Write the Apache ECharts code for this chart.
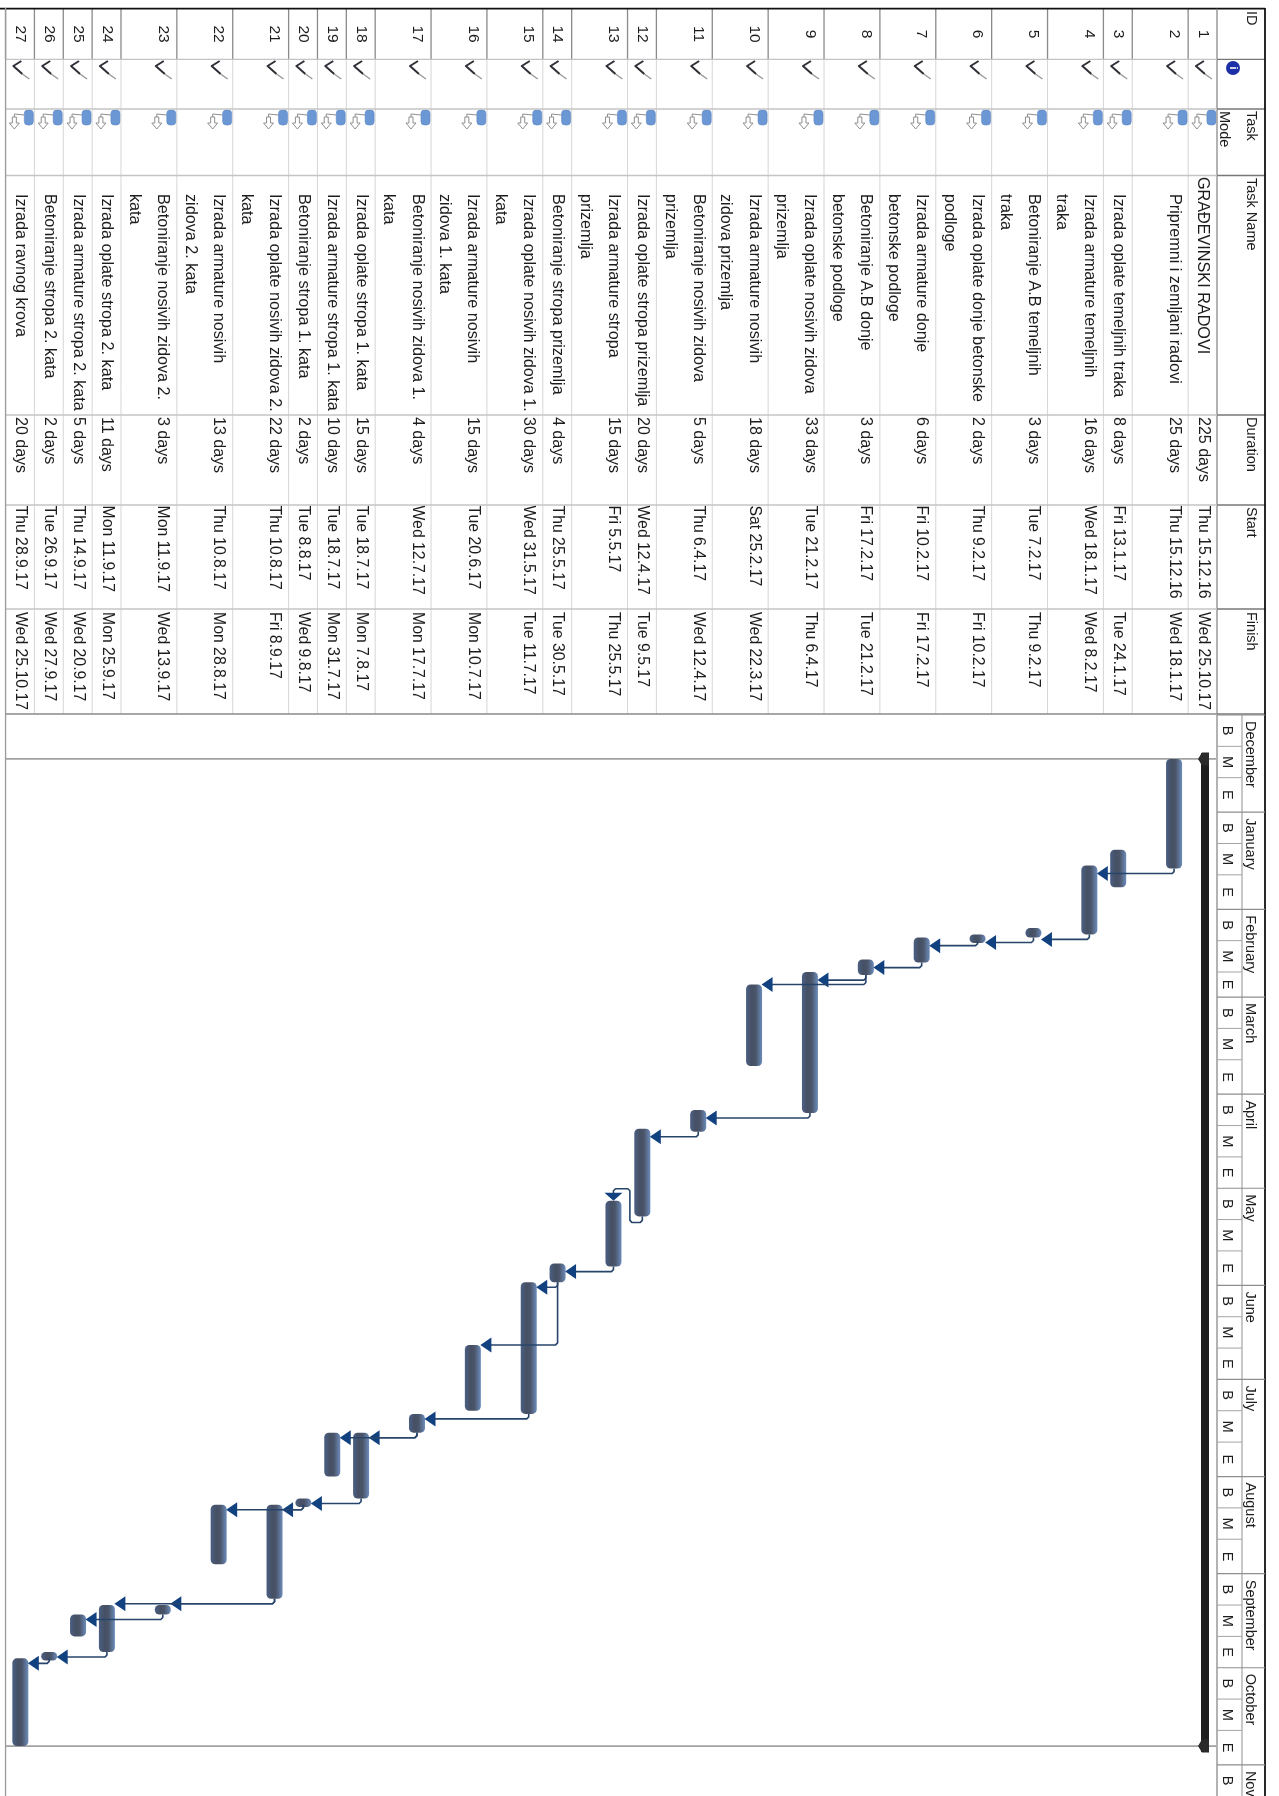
<!DOCTYPE html>
<html><head><meta charset="utf-8">
<style>html,body{margin:0;padding:0;background:#fff}#c{width:1279px;height:1796px;filter:blur(0.45px)}</style>
<script src="https://cdn.jsdelivr.net/npm/echarts@6/dist/echarts.min.js"></script>
</head><body><div id="c"></div>
<script>
const taskNames = ["GRAĐEVINSKI RADOVI","Pripremni i zemljani radovi","Izrada oplate temeljnih traka","Izrada armature temeljnih\ntraka","Betoniranje A.B temeljnih\ntraka","Izrada oplate donje betonske\npodloge","Izrada armature donje\nbetonske podloge","Betoniranje A.B donje\nbetonske podloge","Izrada oplate nosivih zidova\nprizemlja","Izrada armature nosivih\nzidova prizemlja","Betoniranje nosivih zidova\nprizemlja","Izrada oplate stropa prizemlja","Izrada armature stropa\nprizemlja","Betoniranje stropa prizemlja","Izrada oplate nosivih zidova 1.\nkata","Izrada armature nosivih\nzidova 1. kata","Betoniranje nosivih zidova 1.\nkata","Izrada oplate stropa 1. kata","Izrada armature stropa 1. kata","Betoniranje stropa 1. kata","Izrada oplate nosivih zidova 2.\nkata","Izrada armature nosivih\nzidova 2. kata","Betoniranje nosivih zidova 2.\nkata","Izrada oplate stropa 2. kata","Izrada armature stropa 2. kata","Betoniranje stropa 2. kata","Izrada ravnog krova"];
const durations = ["225 days","25 days","8 days","16 days","3 days","2 days","6 days","3 days","33 days","18 days","5 days","20 days","15 days","4 days","30 days","15 days","4 days","15 days","10 days","2 days","22 days","13 days","3 days","11 days","5 days","2 days","20 days"];
const starts = ["Thu 15.12.16","Thu 15.12.16","Fri 13.1.17","Wed 18.1.17","Tue 7.2.17","Thu 9.2.17","Fri 10.2.17","Fri 17.2.17","Tue 21.2.17","Sat 25.2.17","Thu 6.4.17","Wed 12.4.17","Fri 5.5.17","Thu 25.5.17","Wed 31.5.17","Tue 20.6.17","Wed 12.7.17","Tue 18.7.17","Tue 18.7.17","Tue 8.8.17","Thu 10.8.17","Thu 10.8.17","Mon 11.9.17","Mon 11.9.17","Thu 14.9.17","Tue 26.9.17","Thu 28.9.17"];
const finishes = ["Wed 25.10.17","Wed 18.1.17","Tue 24.1.17","Wed 8.2.17","Thu 9.2.17","Fri 10.2.17","Fri 17.2.17","Tue 21.2.17","Thu 6.4.17","Wed 22.3.17","Wed 12.4.17","Tue 9.5.17","Thu 25.5.17","Tue 30.5.17","Tue 11.7.17","Mon 10.7.17","Mon 17.7.17","Mon 7.8.17","Mon 31.7.17","Wed 9.8.17","Fri 8.9.17","Mon 28.8.17","Wed 13.9.17","Mon 25.9.17","Wed 20.9.17","Wed 27.9.17","Wed 25.10.17"];
const rowLines = [1,2,1,2,2,2,2,2,2,2,2,1,2,1,2,2,2,1,1,1,2,2,2,1,1,1,1];
const headers = ["ID","","Task\nMode","Task Name","Duration","Start","Finish"];
const monthNames = ["December","January","February","March","April","May","June","July","August","September","October","Nov"];
const monthStarts = ["1.12.16","1.1.17","1.2.17","1.3.17","1.4.17","1.5.17","1.6.17","1.7.17","1.8.17","1.9.17","1.10.17","1.11.17"];
const thirdNames = ["B","M","E"];
const thirdDays = [1,11,21];
// [predecessor id, successor id, kind]
const links = [[2,4,"fs"],[4,5,"fs"],[5,6,"fs"],[6,7,"fs"],[7,8,"fs"],[8,9,"fs"],[8,10,"start"],[9,11,"fs"],[11,12,"fs"],[12,13,"loop"],[13,14,"fs"],[14,15,"fs"],[14,16,"start"],[15,17,"fs"],[17,18,"fs"],[17,19,"fs"],[18,20,"fs"],[20,21,"fs"],[20,22,"fs"],[21,23,"fs"],[21,24,"fs"],[23,25,"fs"],[24,26,"fs"],[26,27,"fs"]];

const FONT = '"Liberation Sans"';
const INK = '#1c1c1c';
const DAY = 864e5;
function parseDate(s){ const p = s.split(' ').pop().split('.').map(Number); return Date.UTC(2000+p[2],p[1]-1,p[0]); }
const startT = starts.map(parseDate), endT = finishes.map(s=>parseDate(s)+DAY);
// row edges along the rotated row axis
const rowEdge = [0];
rowLines.forEach(n=>rowEdge.push(rowEdge[rowEdge.length-1]+(n===1?1.025:1.985)));
const lineU = i => rowEdge[i]+0.5;
const total = rowEdge[rowEdge.length-1];
const UNIT = 28.15, HEAD_X = 1217, TOP_H = 715;
const uAt = x => (HEAD_X-x)/UNIT;
const colEdges = [8.7,59.3,109,175.5,415,505,609,714];

const txt = (x,y,text,size,align,fill,weight)=>({type:'text',x,y,rotation:-Math.PI/2,silent:true,
  style:{text,fontFamily:FONT,fontSize:size,fontWeight:weight||'normal',fill:fill||INK,align:align||'left',verticalAlign:'middle'}});
const ln = (x1,y1,x2,y2,stroke,w)=>({type:'line',silent:true,shape:{x1,y1,x2,y2},style:{stroke,lineWidth:w||1,fill:null}});
const poly = (points,stroke,w)=>({type:'polyline',silent:true,shape:{points},style:{stroke,lineWidth:w||1,fill:null,lineJoin:'round'}});
const gon = (points,fill,stroke,w)=>({type:'polygon',silent:true,shape:{points},style:{fill,stroke:stroke||null,lineWidth:w||0}});

function tableItem(params,api){
  const i=params.dataIndex, C=[];
  const P=(u,v)=>api.coord([u,v]);
  const yAt=v=>P(0,v)[1];
  // row separator under row i
  const sx=P(rowEdge[i+1],0)[0];
  C.push(ln(sx,colEdges[1],sx,colEdges[7],'#d6d6d6',1));
  C.push(ln(sx,colEdges[0],sx,colEdges[1],'#8a8a8a',1.3));
  const lines=taskNames[i].split('\n');
  const x0=P(lineU(i),0)[0];
  C.push(txt(x0,yAt((colEdges[0]+colEdges[1])/2),String(i+1),15.5,'center'));
  // completed check
  const cy=yAt(61);
  C.push(poly([[x0+1,cy],[x0-7,cy+5],[x0+2,cy+13]],'#2f2f38',2));
  C.push(poly([[x0+2,cy+13],[x0+9,cy+18]],'#9a9a9a',1.5));
  // task-mode glyph
  const my=yAt(110);
  C.push({type:'rect',silent:true,shape:{x:x0+4,y:my,width:9,height:15,r:3.5},style:{fill:'#6b97d4',stroke:'#5a86c4',lineWidth:.6}});
  C.push(poly([[x0+4,my+5],[x0-6,my+4],[x0-6,my+7]],'#8f8f8f',1));
  C.push(gon([[x0-8,my+7],[x0-4,my+7],[x0-4,my+13],[x0-1,my+13],[x0-6,my+19],[x0-11,my+13],[x0-8,my+13]],'#fff','#8f8f8f',1));
  // cells
  const indent=i===0?177:194;
  lines.forEach((t,k)=>C.push(txt(P(lineU(i)+k,0)[0],yAt(indent),t,16.2)));
  C.push(txt(x0,yAt(417),durations[i],16));
  C.push(txt(x0,yAt(505.5),starts[i],15.8));
  C.push(txt(x0,yAt(612),finishes[i],15.8));
  return {type:'group',children:C};
}
function headerItem(params,api){
  const C=[]; const P=(u,v)=>api.coord([u,v]);
  const xR=P(uAt(1265),0)[0], xH=P(0,0)[0], xL=P(total,0)[0];
  C.push(ln(0,colEdges[0],xR,colEdges[0],'#111',1.8));
  C.push(ln(xH,colEdges[0],xH,colEdges[7],'#8a8a8a',1.3));
  colEdges.slice(1).forEach((e,k)=>{
    C.push(ln(xL,e,xH,e,k===6?'#8a8a8a':'#c4c4c4',k===6?1.5:1.3));
    C.push(ln(xH,e,xR,e,'#777',1.3));
  });
  const hx=P(uAt(1251),0)[0];
  const pos=[11,0,111,178,417,507,612];
  headers.forEach((h,k)=>{ if(!h) return;
    h.split('\n').forEach((t,j)=>C.push(txt(hx-j*27,pos[k],t,14.5)));
  });
  // info glyph
  C.push({type:'circle',silent:true,shape:{cx:1233,cy:68,r:7},style:{fill:'#1c2fa6'}});
  C.push(txt(1233,68,'i',11,'center','#fff','bold'));
  return {type:'group',children:C};
}
function timeItem(params,api){
  const i=params.dataIndex, C=[];
  const xR=api.coord([uAt(1265),0])[0], xMid=api.coord([uAt(1242),0])[0], xH=api.coord([0,0])[0];
  const t0=parseDate(monthStarts[i]);
  const d=new Date(t0);
  const next=i+1<monthStarts.length?parseDate(monthStarts[i+1]):null;
  const y=t=>api.coord([0,t])[1];
  C.push(ln(xH,y(t0),xR,y(t0),'#8e8e8e',1.2));
  C.push(txt(api.coord([uAt(1250),0])[0],y(t0)+6,monthNames[i],14.5));
  thirdNames.forEach((n,k)=>{
    if(next===null&&k>0) return;
    const a=Date.UTC(d.getUTCFullYear(),d.getUTCMonth(),thirdDays[k]);
    const b=k<2?Date.UTC(d.getUTCFullYear(),d.getUTCMonth(),thirdDays[k+1]):next;
    if(k>0) C.push(ln(xH,y(a),xMid,y(a),'#a4a4a4',1));
    C.push(txt(api.coord([uAt(1227),0])[0],(y(a)+y(b===null?a+10*DAY:b))/2,n,14.5,'center'));
  });
  return {type:'group',children:C};
}
function frameItem(params,api){
  const C=[];
  const xR=api.coord([uAt(1265),0])[0], xMid=api.coord([uAt(1242),0])[0], xH=api.coord([0,0])[0], xL=api.coord([total,0])[0];
  const y=t=>api.coord([0,t])[1];
  const yTop=TOP_H, yEnd=1796;
  C.push(ln(xR,8,xR,yEnd,'#111',1.8));
  C.push(ln(xH,yTop,xH,yEnd,'#8a8a8a',1.3));
  C.push(ln(xMid,yTop,xMid,yEnd,'#9a9a9a',1.1));
  C.push(ln(xL,8,xL,yEnd,'#9a9a9a',1.3));
  const a=y(startT[0]), b=y(endT[0]);
  const xS=xH-12;
  C.push(ln(xL,a,xH-1,a,'#a2a2a2',1.6));
  C.push(ln(xL,b,xH-1,b,'#a2a2a2',1.6));
  C.push({type:'rect',silent:true,shape:{x:xS-4,y:a-6,width:8,height:b-a+12},style:{fill:'#1d1d1d'}});
  [a,b].forEach(v=>C.push(gon([[xS+4,v-6.5],[xS-3,v-6.5],[xS-7,v],[xS-3,v+6.5],[xS+4,v+6.5]],'#2a2a2a')));
  return {type:'group',children:C};
}
function barItem(params,api){
  const i=params.dataIndex+1;
  const p=api.coord([lineU(i),startT[i]]), q=api.coord([lineU(i),endT[i]]);
  const h=Math.max(q[1]-p[1],8.5);
  return {type:'rect',silent:true,shape:{x:p[0]-8,y:p[1],width:16,height:h,r:Math.min(4.5,h/2)},
    style:{fill:new echarts.graphic.LinearGradient(0,0,1,0,[
      {offset:0,color:'#4a5f84'},{offset:.35,color:'#465064'},{offset:.6,color:'#4b556a'},{offset:1,color:'#6c8cbb'}])}};
}
function linkItem(params,api){
  const L=links[params.dataIndex], a=L[0]-1, b=L[1]-1, kind=L[2], C=[];
  const from=api.coord([lineU(a),endT[a]]), to=api.coord([lineU(b),startT[b]]);
  const line='#27456b', head='#12417f';
  if(kind==='loop'){
    const yA=from[1]+6, xM=(from[0]+to[0])/2+2, yB=to[1]-12;
    C.push(poly([[from[0],from[1]],[from[0],yA-2],[from[0]-2,yA],[xM+2,yA],[xM,yA-2],[xM,yB+2],[xM-2,yB],[to[0]+2,yB],[to[0],yB+2],[to[0],to[1]-6]],line,1.6));
    C.push(gon([[to[0],to[1]],[to[0]-9,to[1]-8],[to[0]+9,to[1]-8]],head));
  } else {
    const y=kind==='fs'?from[1]+5:to[1];
    const tip=to[0]+7.5;
    C.push(poly([[from[0],from[1]],[from[0],y-2],[from[0]-2,y],[tip+4,y]],line,1.6));
    C.push(gon([[tip,y],[tip+11,y-7.5],[tip+11,y+7.5]],head));
  }
  return {type:'group',children:C};
}

const chart = echarts.init(document.getElementById('c'),null,{renderer:'canvas',width:1279,height:1796});
const rowAxis = g=>({type:'value',gridIndex:g,inverse:true,min:uAt(1279),max:uAt(0),show:false});
const seriesBase = (x,render,n,z)=>({type:'custom',xAxisIndex:x,yAxisIndex:x,coordinateSystem:'cartesian2d',renderItem:render,
  data:Array.from({length:n},(_,i)=>[0,0]),silent:true,animation:false,clip:false,z,encode:{x:0,y:1}});
chart.setOption({
  animation:false,backgroundColor:'#fff',
  grid:[{left:0,top:0,width:1279,height:TOP_H},{left:0,top:TOP_H,width:1279,height:1796-TOP_H}],
  xAxis:[rowAxis(0),rowAxis(1)],
  yAxis:[
    {type:'value',gridIndex:0,inverse:true,min:0,max:TOP_H,show:false},
    {type:'time',gridIndex:1,inverse:true,min:parseDate(monthStarts[0]),max:parseDate(monthStarts[0])+(1796-TOP_H)/3.134*DAY,show:false}
  ],
  series:[
    seriesBase(0,tableItem,taskNames.length,2),
    seriesBase(0,headerItem,1,3),
    seriesBase(1,frameItem,1,4),
    seriesBase(1,timeItem,monthNames.length,5),
    seriesBase(1,barItem,taskNames.length-1,6),
    seriesBase(1,linkItem,links.length,7)
  ]
});
</script></body></html>
